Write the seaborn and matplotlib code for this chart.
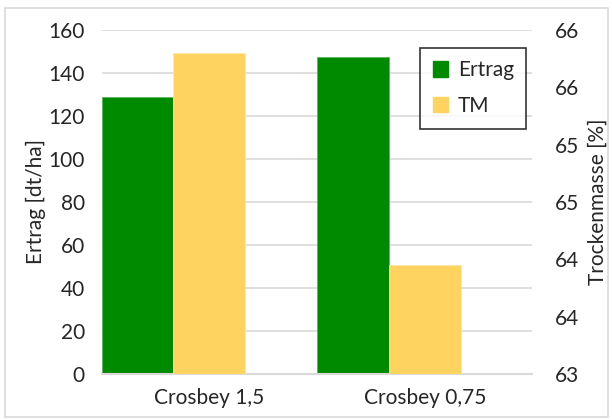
import numpy as np
import matplotlib
matplotlib.use("Agg")
import matplotlib.pyplot as plt
import matplotlib.patches as patches
from matplotlib.ticker import FuncFormatter
import seaborn as sns

# Data
categories = ["Crosbey 1,5", "Crosbey 0,75"]
ertrag = [128.7, 147.3]      # dt/ha, left axis
tm = [65.80, 63.95]          # Trockenmasse %, right axis

green = "#008A00"
yellow = "#FFD35F"
grid_col = "#D9D9D9"

sns.set_theme(style="white")
plt.rcParams["font.family"] = ["Lato", "DejaVu Sans"]

fig = plt.figure(figsize=(6.12, 4.19), dpi=100)
ax = fig.add_axes([0.166, 0.1074, 0.704, 0.8210])
ax2 = ax.twinx()

pos = np.arange(len(categories))
w = 1 / 3

# Ertrag bars sit in the left third of each category, TM in the middle third
sns.barplot(x=pos - w, y=ertrag, native_scale=True, width=w, color=green,
            saturation=1, edgecolor="#5DB35D", linewidth=0.6, ax=ax, zorder=2)
sns.barplot(x=pos, y=tm, native_scale=True, width=w, color=yellow,
            saturation=1, edgecolor="#FFE7A6", linewidth=0.6, ax=ax2, zorder=2)

for a in (ax, ax2):
    a.set_xlim(-0.5, len(categories) - 0.5)
    for s in a.spines.values():
        s.set_visible(False)

ax.set_ylim(0, 160)
ax.set_yticks(np.arange(0, 161, 20))
ax.yaxis.grid(True, color=grid_col, linewidth=1.2, zorder=0)
ax.set_axisbelow(True)
ax.spines["bottom"].set_visible(True)
ax.spines["bottom"].set_color(grid_col)
ax.spines["bottom"].set_linewidth(1.5)
ax.set_xticks(pos)
ax.set_xticklabels(categories, fontsize=15)
ax.tick_params(axis="x", length=0, pad=10)
ax.tick_params(axis="y", length=0, labelsize=15, pad=12)
ax.set_xlabel("")
ax.set_ylabel("Ertrag [dt/ha]", fontsize=15, labelpad=2)

ax2.set_ylim(63, 66)
ax2.set_yticks(np.arange(63, 66.01, 0.5))
ax2.yaxis.set_major_formatter(FuncFormatter(lambda v, p: f"{int(np.floor(v + 0.5))}"))
ax2.tick_params(axis="y", length=0, labelsize=15, pad=16)
ax2.set_ylabel("Trockenmasse [%]", fontsize=15, labelpad=6)
ax2.grid(False)

handles = [patches.Patch(color=green, label="Ertrag"),
           patches.Patch(color=yellow, label="TM")]
leg = ax2.legend(handles=handles, loc="upper right", bbox_to_anchor=(0.986, 0.948),
                 fontsize=15, frameon=True, fancybox=False, handlelength=0.75,
                 handleheight=0.75, handletextpad=0.45, borderpad=0.6, labelspacing=0.75,
                 borderaxespad=0)
leg.get_frame().set_edgecolor("black")
leg.get_frame().set_linewidth(1.2)

# outer chart border
fig.patches.append(patches.Rectangle((0.008, 0.004), 0.985, 0.978, transform=fig.transFigure,
                                     fill=False, edgecolor=grid_col, linewidth=1.2))

fig.savefig("out.png", dpi=100)
